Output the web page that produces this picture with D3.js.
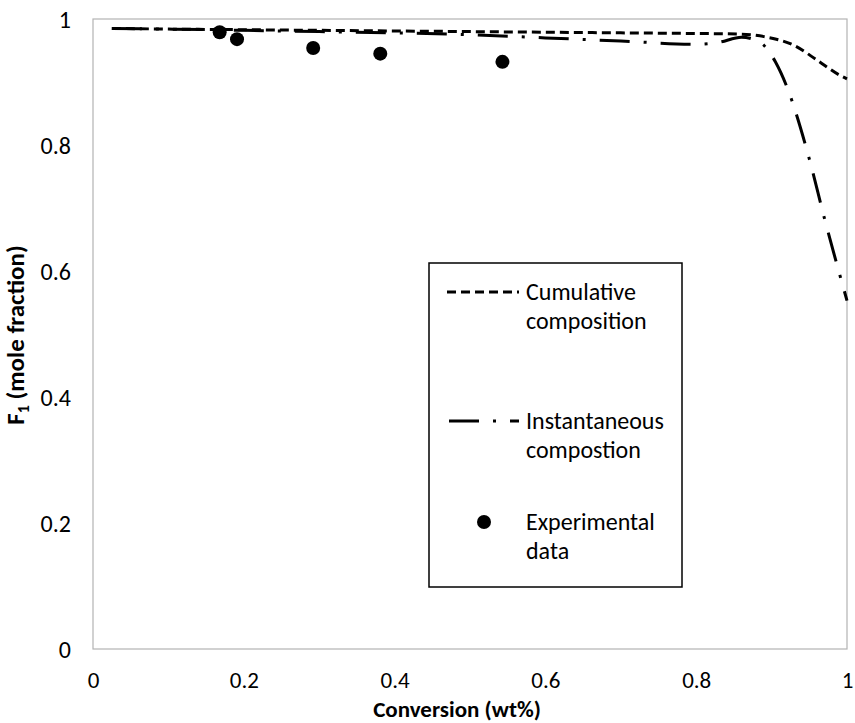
<!DOCTYPE html>
<html>
<head>
<meta charset="utf-8">
<script src="https://cdn.jsdelivr.net/npm/d3@7"></script>
<style>
  html, body { margin: 0; padding: 0; background: #fff; }
  svg { display: block; }
  text { font-family: Carlito, Calibri, Lato, "Open Sans", sans-serif; fill: #000; }
</style>
</head>
<body>
<svg id="chart" width="855" height="723"></svg>
<script>
// ---- Data ----
const xTicks = [0, 0.2, 0.4, 0.6, 0.8, 1];
const yTicks = [0, 0.2, 0.4, 0.6, 0.8, 1];

const cumulativeX = [0.025, 0.1, 0.2, 0.3, 0.4, 0.5, 0.6, 0.7, 0.8, 0.86, 0.89, 0.93, 0.96, 0.99, 1.0];
const cumulativeY = [0.985, 0.984, 0.983, 0.982, 0.981, 0.980, 0.979, 0.978, 0.977, 0.976, 0.972, 0.958, 0.935, 0.911, 0.905];

const instantX = [0.025, 0.1, 0.2, 0.3, 0.4, 0.5, 0.6, 0.7, 0.8, 0.83, 0.86, 0.875, 0.89, 0.905, 0.92, 0.95, 0.97, 1.0];
const instantY = [0.985, 0.984, 0.982, 0.980, 0.978, 0.975, 0.970, 0.965, 0.960, 0.963, 0.971, 0.968, 0.958, 0.932, 0.893, 0.778, 0.684, 0.553];

const expX = [0.168, 0.191, 0.292, 0.381, 0.543];
const expY = [0.979, 0.968, 0.954, 0.945, 0.932];

const legendLabels = [["Cumulative", "composition"], ["Instantaneous", "compostion"], ["Experimental", "data"]];

// ---- Layout ----
const svg = d3.select("#chart");
const plot = { left: 93, top: 19, right: 847, bottom: 649 };

const x = d3.scaleLinear().domain([0, 1]).range([plot.left, plot.right]);
const y = d3.scaleLinear().domain([0, 1]).range([plot.bottom, plot.top]);

// plot area border
svg.append("rect")
  .attr("x", plot.left).attr("y", plot.top)
  .attr("width", plot.right - plot.left).attr("height", plot.bottom - plot.top)
  .attr("fill", "none").attr("stroke", "#b3b3b3").attr("stroke-width", 1.2);

// axes (labels only)
const fs = 24;
const xAxis = d3.axisBottom(x).tickValues(xTicks).tickSize(0).tickPadding(0).tickFormat(d3.format("~g"));
const gx = svg.append("g").attr("transform", `translate(0,${plot.bottom})`).call(xAxis);
gx.select(".domain").remove();
gx.selectAll("text").attr("font-size", 23).attr("dy", null).attr("y", 39)
  .style("font-family", "Carlito, Calibri, Lato, sans-serif").attr("fill", "#000");

const yAxis = d3.axisLeft(y).tickValues(yTicks).tickSize(0).tickPadding(0).tickFormat(d3.format("~g"));
const gy = svg.append("g").attr("transform", `translate(${plot.left},0)`).call(yAxis);
gy.select(".domain").remove();
gy.selectAll("text").attr("font-size", fs).attr("x", -22).attr("dy", "0.35em")
  .style("font-family", "Carlito, Calibri, Lato, sans-serif").attr("fill", "#000");

// axis titles
svg.append("text").attr("x", 457).attr("y", 717).attr("text-anchor", "middle")
  .attr("font-size", 23).attr("font-weight", "bold").text("Conversion (wt%)");

const yt = svg.append("text").attr("transform", "translate(24,335) rotate(-90)")
  .attr("text-anchor", "middle").attr("font-size", 25).attr("font-weight", "bold");
yt.append("tspan").text("F");
yt.append("tspan").attr("font-size", 16).attr("dy", 5).text("1");
yt.append("tspan").attr("dy", -5).text(" (mole fraction)");

// lines
const line = d3.line().x(d => x(d[0])).y(d => y(d[1])).curve(d3.curveMonotoneX);
const cumData = cumulativeX.map((v, i) => [v, cumulativeY[i]]);
const instData = instantX.map((v, i) => [v, instantY[i]]);

const cumDash = "9,5";
const instDash = "30,14,3,14";

svg.append("path").datum(instData).attr("d", line)
  .attr("fill", "none").attr("stroke", "#000").attr("stroke-width", 3)
  .attr("stroke-dasharray", instDash);
svg.append("path").datum(cumData).attr("d", line)
  .attr("fill", "none").attr("stroke", "#000").attr("stroke-width", 3)
  .attr("stroke-dasharray", cumDash);

// experimental points
svg.append("g").selectAll("circle").data(expX.map((v, i) => [v, expY[i]])).join("circle")
  .attr("cx", d => x(d[0])).attr("cy", d => y(d[1])).attr("r", 7).attr("fill", "#000");

// legend
const lg = svg.append("g");
lg.append("rect").attr("x", 429).attr("y", 263).attr("width", 253).attr("height", 324)
  .attr("fill", "#fff").attr("stroke", "#000").attr("stroke-width", 1.5);

const itemY = [292, 421, 522];
const textX = 526;
legendLabels.forEach((lab, i) => {
  const t = lg.append("text").attr("x", textX).attr("y", itemY[i] + 8).attr("font-size", fs);
  t.append("tspan").attr("x", textX).text(lab[0]);
  t.append("tspan").attr("x", textX).attr("dy", 28.5).text(lab[1]);
});
lg.append("line").attr("x1", 447).attr("x2", 519).attr("y1", itemY[0]).attr("y2", itemY[0])
  .attr("stroke", "#000").attr("stroke-width", 3).attr("stroke-dasharray", cumDash);
lg.append("line").attr("x1", 449).attr("x2", 519).attr("y1", itemY[1]).attr("y2", itemY[1])
  .attr("stroke", "#000").attr("stroke-width", 3).attr("stroke-dasharray", instDash);
lg.append("circle").attr("cx", 484).attr("cy", itemY[2]).attr("r", 7).attr("fill", "#000");
</script>
</body>
</html>
